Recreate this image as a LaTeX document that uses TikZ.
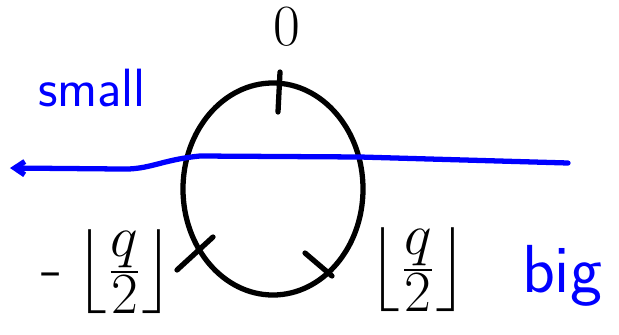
\documentclass[tikz,border=0pt]{standalone}
\usetikzlibrary{arrows.meta}
\usetikzlibrary{shapes.geometric}
\usetikzlibrary{positioning}
\usepackage{amsmath}
\usepackage{amssymb}

\begin{document}
\begin{tikzpicture}[
    x=0.03cm, y=-0.03cm,
    stroke/.style={line width=4.5pt, line cap=round, line join=round},
    blueline/.style={stroke, blue},
    bound/.style={font=\Huge, scale=2.4, inner sep=0pt},
    word/.style={blue, inner sep=0pt},
    >=stealth
]

\useasboundingbox (0,0) rectangle (619,334);

% --- Ring ---
\node[ellipse, draw, stroke, minimum width=5.4cm, minimum height=6.36cm] (ring) at (273,189) {};

% --- Ticks on the ring ---
\coordinate (t0a) at (280,72);
\coordinate (t0b) at (278,112);
\coordinate (tla) at (177,270);
\coordinate (tlb) at (213,237);
\coordinate (tra) at (305,253);
\coordinate (trb) at (332,276);
\draw[stroke] (t0a) -- (t0b);
\draw[stroke] (tla) -- (tlb);
\draw[stroke] (tra) -- (trb);

% --- Labels ---
\node[font=\Huge, scale=2] (zero) at (287,27) {$0$};
\node[bound] (lo) at (108,272) {$\mathord{\text{-}}\left\lfloor\frac{q}{2}\right\rfloor$};
\node[bound] (hi) at (418,270) {$\left\lfloor\frac{q}{2}\right\rfloor$};
\node[word, font=\sffamily\fontsize{46}{46}\selectfont] (small) at (92,88) {small};
\node[word, font=\sffamily\fontsize{58}{58}\selectfont] (big) at (562,276) {big};

% --- Blue axis ---
\coordinate (west) at (10,168);
\coordinate (east) at (568,163);
\draw[blueline, -{Straight Barb[length=3mm, width=4mm]}] (east) -- (360,157) -- (200,156)
    .. controls (160,160) and (150,170) .. (120,169) -- (west);

\end{tikzpicture}
\end{document}
